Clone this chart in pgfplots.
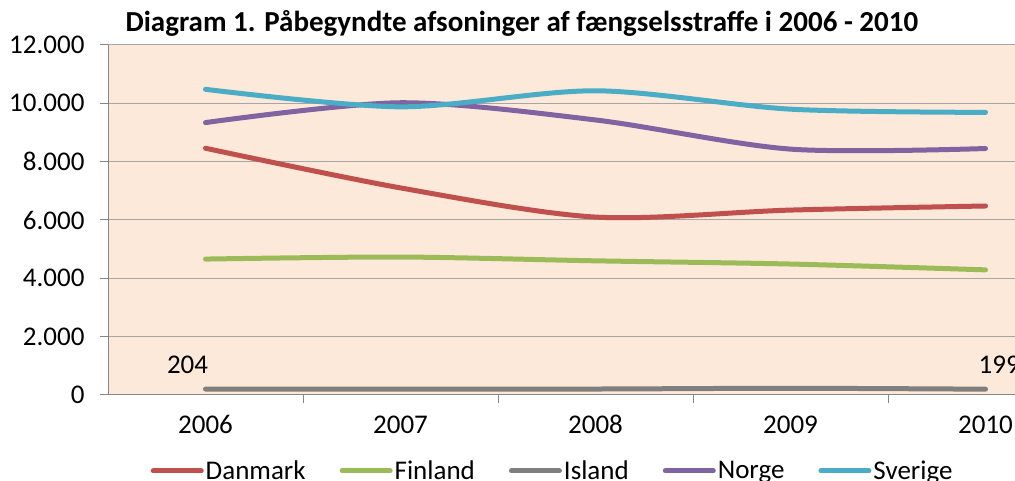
\documentclass[border=0pt]{standalone}
\usepackage{fontspec}
\setmainfont{Carlito}
\usepackage{pgfplots}
\pgfplotsset{compat=1.18}
\definecolor{dk}{HTML}{C0504D}
\definecolor{fi}{HTML}{9BBB59}
\definecolor{is}{HTML}{7F7F7F}
\definecolor{no}{HTML}{8064A2}
\definecolor{se}{HTML}{4BACC6}
\definecolor{bg}{HTML}{FDE9D9}
\definecolor{gridc}{HTML}{A6A6A6}
\definecolor{axc}{HTML}{868686}
\begin{document}
\begin{tikzpicture}
\begin{axis}[
  at={(108pt,86pt)}, anchor=south west,
  scale only axis, width=975pt, height=350pt,
  xmin=-0.5, xmax=4.5, ymin=0, ymax=12000,
  axis x line=bottom, axis y line=left,
  axis line style={draw=axc, line width=1pt, -},
  axis background/.style={fill=bg},
  ymajorgrids, grid style={draw=gridc, line width=1pt},
  xtick={0,1,2,3,4}, xticklabels={2006,2007,2008,2009,2010},
  minor xtick={0.5,1.5,2.5,3.5},
  ytick={0,2000,4000,6000,8000,10000,12000},
  tick align=outside,
  major tick length=8pt, minor tick length=8pt,
  major x tick style={draw=none},
  tick style={draw=axc, line width=1pt},
  scaled y ticks=false,
  /pgf/number format/.cd, 1000 sep={.}, assume math mode=true,
  /pgfplots/.cd,
  ticklabel style={font=\fontsize{27}{27}\selectfont, text=black},
  xticklabel style={yshift=-9pt},
  yticklabel style={xshift=-12pt},
  legend style={at={(0.456,-0.217)}, anchor=center, draw=none, fill=none,
    font=\fontsize{27}{27}\selectfont,
    /tikz/every even column/.append style={column sep=32pt}},
  legend columns=5,
  legend image code/.code={\draw[#1, line width=5pt, line cap=round] (0pt,0pt) -- (48pt,0pt);},
  every axis plot/.append style={line width=5pt, line cap=round, smooth, tension=0.5},
]
\addplot[dk] coordinates {(0,8460) (1,7100) (2,6100) (3,6340) (4,6480)};
\addlegendentry{Danmark}
\addplot[fi] coordinates {(0,4660) (1,4730) (2,4600) (3,4490) (4,4290)};
\addlegendentry{Finland}
\addplot[is] coordinates {(0,204) (1,200) (2,205) (3,230) (4,199)};
\addlegendentry{Island}
\addplot[no] coordinates {(0,9340) (1,10020) (2,9430) (3,8430) (4,8450)};
\addlegendentry{Norge}
\addplot[se] coordinates {(0,10480) (1,9880) (2,10430) (3,9800) (4,9690)};
\addlegendentry{Sverige}
\node[font=\fontsize{27}{27}\selectfont] at (axis cs:-0.092,1030) {204};
\node[font=\fontsize{27}{27}\selectfont] at (axis cs:4.07,1030) {199};
\end{axis}
\node[anchor=base west, font=\bfseries\fontsize{29}{29}\selectfont] at (122pt,449pt) {Diagram 1. Påbegyndte afsoninger af fængselsstraffe i 2006 - 2010};
\pgfresetboundingbox
\path (0pt,0pt) rectangle (1015pt,481pt);
\end{tikzpicture}
\end{document}
